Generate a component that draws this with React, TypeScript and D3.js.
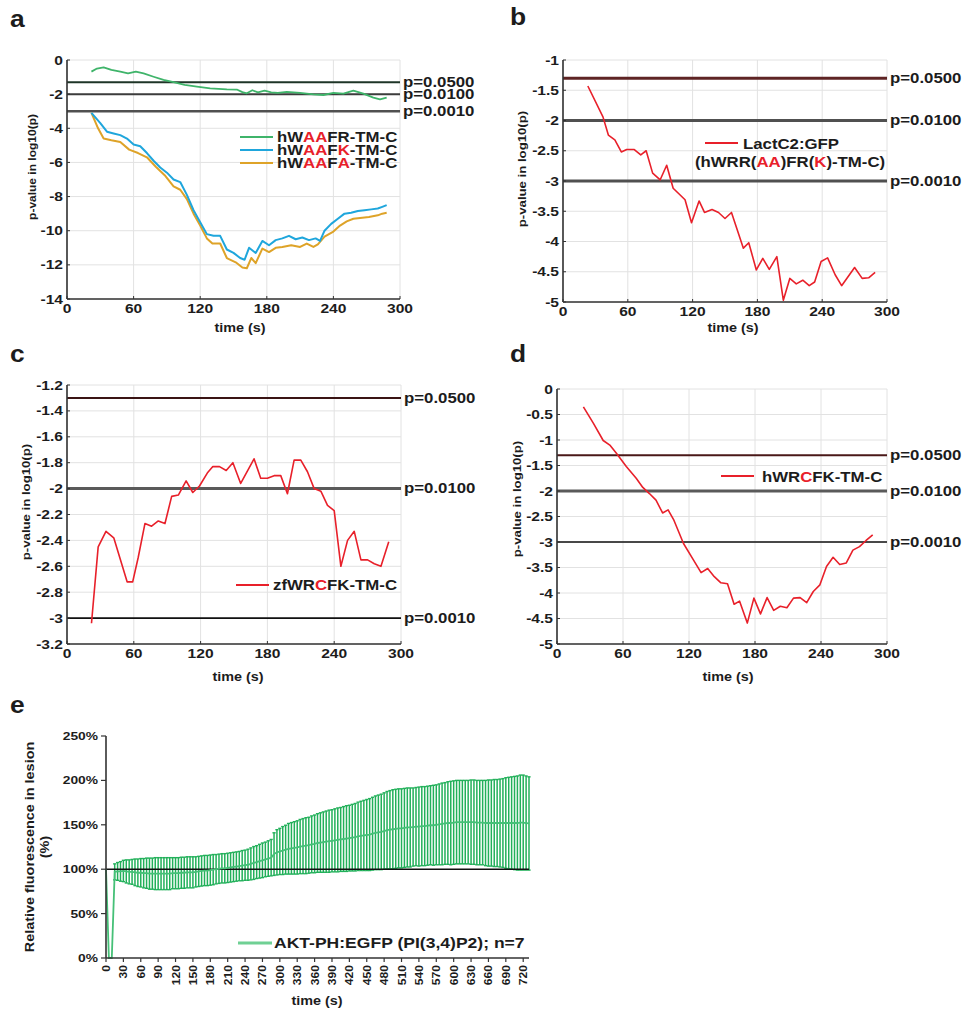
import React from 'react';
import * as d3 from 'd3';

const FONT = "'Liberation Sans', Arial, Helvetica, sans-serif";
const RED = '#e8202a';
const INK = '#1c1c1c';

// ---- panel a (three constructs) ----
const aGreenT = [22, 27, 33, 40, 48, 55, 62, 69, 78, 87, 96, 106, 117, 129, 144, 153, 158, 162, 167, 172, 178, 184, 190, 198, 204, 210, 222, 231, 240, 249, 258, 267, 276, 282, 288];
const aGreenV = [-0.68, -0.5, -0.43, -0.58, -0.68, -0.78, -0.68, -0.78, -0.98, -1.17, -1.3, -1.46, -1.56, -1.66, -1.72, -1.73, -1.88, -1.95, -1.77, -1.9, -1.8, -1.9, -1.93, -1.87, -1.9, -1.93, -2.01, -2.05, -1.93, -1.97, -1.8, -1.97, -2.2, -2.3, -2.2];
const aBlueT = [22, 30, 36, 42, 48, 54, 60, 66, 72, 78, 84, 90, 96, 102, 108, 114, 120, 126, 132, 138, 144, 150, 156, 160, 164, 170, 176, 182, 188, 194, 200, 206, 212, 218, 224, 228, 232, 238, 244, 250, 256, 262, 268, 274, 280, 284, 288];
const aBlueV = [-3.1, -3.7, -4.2, -4.3, -4.4, -4.6, -4.95, -5.05, -5.45, -5.9, -6.3, -6.6, -7.0, -7.15, -7.9, -8.8, -9.5, -10.2, -10.3, -10.3, -11.1, -11.3, -11.6, -11.7, -11.0, -11.3, -10.6, -10.85, -10.55, -10.45, -10.3, -10.5, -10.4, -10.55, -10.45, -10.6, -10.0, -9.6, -9.3, -9.0, -8.95, -8.85, -8.8, -8.75, -8.7, -8.6, -8.5];
const aOrangeT = [22, 28, 33, 40, 48, 56, 64, 72, 80, 88, 96, 102, 108, 114, 120, 126, 131, 138, 144, 152, 158, 162, 166, 170, 176, 182, 188, 194, 202, 210, 216, 222, 226, 232, 240, 246, 252, 258, 264, 272, 280, 284, 288];
const aOrangeV = [-3.1, -4.0, -4.6, -4.7, -4.8, -5.25, -5.45, -5.7, -6.25, -6.75, -7.4, -7.6, -8.15, -9.0, -9.7, -10.45, -10.75, -10.75, -11.6, -11.85, -12.15, -12.2, -11.6, -11.9, -11.05, -11.25, -11.0, -10.95, -10.85, -10.95, -10.75, -10.95, -10.8, -10.35, -10.05, -9.7, -9.45, -9.3, -9.25, -9.2, -9.1, -9.0, -8.95];

// ---- panel b ----
const bT = [23, 37, 42, 48, 54, 59, 66, 72, 77, 83, 90, 96, 102, 113, 119, 126, 131, 138, 144, 150, 156, 167, 172, 179, 185, 191, 198, 204, 210, 216, 222, 228, 233, 239, 245, 252, 258, 270, 277, 283, 289];
const bV = [-1.43, -1.94, -2.24, -2.32, -2.52, -2.48, -2.48, -2.57, -2.5, -2.87, -2.98, -2.74, -3.12, -3.31, -3.69, -3.33, -3.52, -3.47, -3.52, -3.62, -3.52, -4.11, -4.02, -4.47, -4.28, -4.46, -4.25, -4.97, -4.61, -4.7, -4.64, -4.73, -4.67, -4.33, -4.27, -4.55, -4.73, -4.43, -4.61, -4.6, -4.51];

// ---- panel c ----
const cT = [22, 28, 35, 42, 48, 54, 59, 64, 70, 76, 82, 88, 94, 100, 107, 113, 119, 126, 131, 137, 143, 149, 156, 168, 174, 180, 186, 192, 198, 204, 210, 216, 222, 228, 234, 240, 246, 252, 258, 264, 270, 276, 282, 289];
const cV = [-3.04, -2.45, -2.33, -2.38, -2.55, -2.72, -2.72, -2.53, -2.27, -2.29, -2.25, -2.27, -2.06, -2.05, -1.94, -2.03, -1.98, -1.88, -1.83, -1.83, -1.86, -1.8, -1.96, -1.77, -1.92, -1.92, -1.9, -1.9, -2.04, -1.78, -1.78, -1.87, -2.0, -2.02, -2.13, -2.17, -2.6, -2.4, -2.33, -2.55, -2.55, -2.58, -2.6, -2.41];

// ---- panel d ----
const dT = [24, 33, 42, 48, 54, 63, 72, 78, 84, 90, 96, 101, 106, 115, 124, 131, 137, 143, 149, 155, 161, 166, 173, 179, 185, 191, 197, 203, 209, 215, 221, 227, 233, 239, 245, 251, 257, 263, 269, 275, 281, 287];
const dV = [-0.35, -0.67, -1.01, -1.1, -1.26, -1.52, -1.75, -1.93, -2.05, -2.18, -2.43, -2.37, -2.56, -3.03, -3.35, -3.6, -3.52, -3.68, -3.8, -3.82, -4.22, -4.16, -4.59, -4.1, -4.41, -4.09, -4.34, -4.26, -4.29, -4.1, -4.09, -4.19, -3.97, -3.84, -3.48, -3.3, -3.44, -3.41, -3.16, -3.09, -2.97, -2.86];

const timeTicks = [0, 60, 120, 180, 240, 300];

// ---- panel e (AKT-PH:EGFP, mean and SD every 5 s) ----
const eTime = d3.range(0, 735, 5);
const eMean = [
  100, 0, 0, 97, 97.5, 97.5, 98, 97.5, 97, 97,
  96.5, 96, 96, 95.5, 95.5, 95, 95, 95, 95, 95,
  95, 95, 95, 95.5, 95.5, 95.5, 96, 96, 96.5, 96.5,
  96.5, 97, 97.5, 98, 98.5, 98.5, 99, 99.5, 100, 100.5,
  101, 101, 101.5, 102, 102.5, 103, 103.5, 104, 104.5, 105,
  106, 107, 108, 109, 110, 111, 112, 113, 117, 119,
  120, 121, 122, 123, 123.5, 124, 124.5, 125.5, 126, 126.5,
  127, 128, 128.5, 129.5, 130, 130.5, 131, 131.5, 132, 132.5,
  133, 133.5, 134, 134.5, 135, 135.5, 136, 137, 137.5, 138,
  138.5, 139, 140, 141, 141.5, 142, 143, 144, 144.5, 145,
  145.5, 146, 146, 146.5, 147, 147, 147.5, 148, 148, 148.5,
  148.5, 149, 149.5, 149.5, 150, 150.5, 151, 151.5, 152, 152,
  152.5, 153, 153, 153, 153, 153, 153, 153, 152.5, 152.5,
  152.5, 152, 152, 152, 152, 152, 152, 152, 152, 152,
  152, 152, 152, 152.5, 152.5, 152, 151.5,
];
const eSd = [
  0, 0, 0, 9, 10, 11, 12, 13, 13.5, 14,
  15, 15.5, 16, 16.5, 17, 17.5, 17.5, 18, 18, 18,
  18, 18, 18, 17.5, 17.5, 17.5, 17.5, 17.5, 17.5, 17.5,
  17.5, 17, 17, 17, 17, 17, 17, 17, 16.5, 16.5,
  16.5, 16.5, 16.5, 16.5, 16.5, 16.5, 16.5, 17, 17, 17.5,
  18, 18.5, 18.5, 19, 19.5, 19.5, 20, 20.5, 24, 25.5,
  26, 27, 27.5, 28.5, 29, 29.5, 30, 30.5, 31, 31.5,
  31.5, 32, 32.5, 33, 33.5, 34, 34.5, 35, 35, 35.5,
  36, 36, 36.5, 37, 37, 37.5, 38, 38.5, 39, 39.5,
  40, 40.5, 41, 41.5, 42, 42.5, 43, 43.5, 44, 44.5,
  44.5, 44.5, 44.5, 44.5, 44.5, 44.5, 44, 44, 44.5, 44.5,
  44.5, 44.5, 44.5, 45, 45, 45.5, 46, 46, 46.5, 47,
  47, 47, 47, 47, 47, 47, 47.5, 47.5, 47.5, 47.5,
  47.5, 48, 48.5, 48.5, 49, 49, 49.5, 50, 51, 51.5,
  52, 52.5, 53, 53.5, 53.5, 53, 52.5,
];
const ePctTicks = [0, 50, 100, 150, 200, 250];
const eTimeTicks = d3.range(0, 721, 30);

// text with the slightly wide look of the figure
function T({ x, y, size = 14, anchor = 'start', rot = 0, sx = 1.2, fill = INK, children }: any) {
  return (
    <text
      transform={`translate(${x},${y})${rot ? ` rotate(${rot})` : ''} scale(${sx},1)`}
      fontSize={size}
      fontWeight={700}
      fontFamily={FONT}
      textAnchor={anchor}
      fill={fill}
    >
      {children}
    </text>
  );
}

const parts = (list: [string, boolean][]) =>
  list.map(([s, red], i) => (
    <tspan key={i} fill={red ? RED : INK}>{s}</tspan>
  ));

function Panel({ box, yDomain, yTicks, series, pLines, legend, letter, yLab, xLab }: any) {
  const x = d3.scaleLinear().domain([0, 300]).range([box.l, box.r]);
  const y = d3.scaleLinear().domain(yDomain).range([box.b, box.t]);
  const line = d3.line<[number, number]>().x(d => x(d[0])).y(d => y(d[1]));

  return (
    <g>
      {/* grid */}
      {timeTicks.map(t => (
        <line key={'gx' + t} x1={x(t)} x2={x(t)} y1={box.t} y2={box.b} stroke="#e2e2e2" strokeWidth={1} />
      ))}
      {yTicks.map((v: number) => (
        <line key={'gy' + v} x1={box.l} x2={box.r} y1={y(v)} y2={y(v)} stroke="#e2e2e2" strokeWidth={1} />
      ))}
      {/* significance thresholds */}
      {pLines.map((p: any) => (
        <line key={p.label} x1={box.l} x2={box.r} y1={y(p.v)} y2={y(p.v)} stroke={p.color} strokeWidth={p.w} />
      ))}
      {series.map((s: any, i: number) => (
        <path
          key={i}
          d={line(s.t.map((t: number, j: number) => [t, s.v[j]]) as [number, number][]) || ''}
          fill="none"
          stroke={s.color}
          strokeWidth={s.w || 1.6}
          strokeLinejoin="round"
        />
      ))}
      {/* axes */}
      <line x1={box.l} x2={box.l} y1={box.t} y2={box.b} stroke="#333" strokeWidth={1.6} />
      <line x1={box.l} x2={box.r} y1={box.b} y2={box.b} stroke="#333" strokeWidth={1.6} />
      {timeTicks.map(t => (
        <line key={'tx' + t} x1={x(t)} x2={x(t)} y1={box.b} y2={box.b - 3} stroke="#333" strokeWidth={1} />
      ))}
      {yTicks.map((v: number) => (
        <line key={'ty' + v} x1={box.l} x2={box.l + 3} y1={y(v)} y2={y(v)} stroke="#333" strokeWidth={1} />
      ))}
      {yTicks.map((v: number) => (
        <T key={'ly' + v} x={box.l - 4} y={y(v) + 4.5} size={13} anchor="end">{String(v)}</T>
      ))}
      {timeTicks.map(t => (
        <T key={'lx' + t} x={x(t)} y={box.b + 13.5} size={13} anchor="middle">{String(t)}</T>
      ))}
      {pLines.map((p: any) => (
        <T key={'pl' + p.label} x={box.r + 3} y={y(p.v) + 4.5} size={14}>{p.label}</T>
      ))}
      {/* legend */}
      {legend.lines.map((l: any, i: number) => (
        <line key={'lg' + i} x1={l.x1} x2={l.x2} y1={l.y} y2={l.y} stroke={l.color} strokeWidth={2.2} />
      ))}
      {legend.texts.map((l: any, i: number) => (
        <T key={'lt' + i} x={l.x} y={l.y} size={14} anchor={l.anchor || 'start'}>{parts(l.parts)}</T>
      ))}
      <T x={letter.x} y={letter.y} size={24} sx={1.1}>{letter.text}</T>
      <T x={yLab.x} y={yLab.y} size={yLab.size || 11} rot={-90} anchor="middle">p-value in log10(p)</T>
      <T x={xLab.x} y={xLab.y} size={12} anchor="middle">time (s)</T>
    </g>
  );
}

function PanelE() {
  const box = { l: 106, r: 529, t: 736, b: 958 };
  const x = d3.scaleLinear().domain([0, 730]).range([box.l, box.r]);
  const y = d3.scaleLinear().domain([0, 250]).range([box.b, box.t]);
  const pts = eTime.map((t, i) => [t, eMean[i]] as [number, number]);
  const meanLine = d3.line<[number, number]>().x(d => x(d[0])).y(d => y(d[1]));
  const green = '#22b05a';

  return (
    <g>
      {/* error bars */}
      {eTime.map((t, i) =>
        eSd[i] > 0 ? (
          <g key={'eb' + t}>
            <line x1={x(t)} x2={x(t)} y1={y(eMean[i] - eSd[i])} y2={y(eMean[i] + eSd[i])} stroke={green} strokeWidth={1.5} />
            <line x1={x(t) - 1.6} x2={x(t) + 1.6} y1={y(eMean[i] + eSd[i])} y2={y(eMean[i] + eSd[i])} stroke={green} strokeWidth={1.4} />
            <line x1={x(t) - 1.6} x2={x(t) + 1.6} y1={y(eMean[i] - eSd[i])} y2={y(eMean[i] - eSd[i])} stroke={green} strokeWidth={1.4} />
          </g>
        ) : null
      )}
      {/* 100% reference */}
      <line x1={box.l} x2={box.r} y1={y(100)} y2={y(100)} stroke="#111" strokeWidth={1.6} />
      <path d={meanLine(pts) || ''} fill="none" stroke="#45c077" strokeWidth={1.8} />
      {/* axes */}
      <line x1={box.l} x2={box.l} y1={box.t} y2={box.b} stroke="#333" strokeWidth={1.6} />
      <line x1={box.l} x2={box.r} y1={box.b} y2={box.b} stroke="#333" strokeWidth={1.6} />
      {ePctTicks.map(v => (
        <g key={'ey' + v}>
          <line x1={box.l - 5} x2={box.l} y1={y(v)} y2={y(v)} stroke="#333" strokeWidth={1.2} />
          <T x={box.l - 8} y={y(v) + 4} size={11.5} anchor="end">{v + '%'}</T>
        </g>
      ))}
      {eTimeTicks.map(t => (
        <g key={'ex' + t}>
          <line x1={x(t)} x2={x(t)} y1={box.b} y2={box.b + 4} stroke="#333" strokeWidth={1.2} />
          <T x={x(t) + 4} y={box.b + 7} size={10.5} rot={-90} anchor="end" sx={1.15}>{String(t)}</T>
        </g>
      ))}
      <T x={34} y={847} size={12} rot={-90} anchor="middle">Relative fluorescence in lesion</T>
      <T x={49} y={847} size={12} rot={-90} anchor="middle">(%)</T>
      <T x={317} y={1005} size={12} anchor="middle">time (s)</T>
      <line x1={238} x2={272} y1={943} y2={943} stroke="#6fd094" strokeWidth={3} />
      <T x={274} y={948} size={15} sx={1.17}>AKT-PH:EGFP (PI(3,4)P2); n=7</T>
      <T x={10} y={713} size={24} sx={1.1}>e</T>
    </g>
  );
}

export default function App() {
  return (
    <svg width={963} height={1009} style={{ position: 'absolute', left: 0, top: 0, background: '#fff' }}>
      <rect width={963} height={1009} fill="#fff" />
      <Panel
        box={{ l: 67, r: 400, t: 60, b: 299 }}
        yDomain={[-14, 0]}
        yTicks={[0, -2, -4, -6, -8, -10, -12, -14]}
        series={[
          { t: aGreenT, v: aGreenV, color: '#3fb46a', w: 1.8 },
          { t: aOrangeT, v: aOrangeV, color: '#dea328', w: 2 },
          { t: aBlueT, v: aBlueV, color: '#1fa6dc', w: 2 },
        ]}
        pLines={[
          { v: -1.301, label: 'p=0.0500', color: '#1e3527', w: 2 },
          { v: -2, label: 'p=0.0100', color: '#3c3c3c', w: 2 },
          { v: -3, label: 'p=0.0010', color: '#505050', w: 2.5 },
        ]}
        legend={{
          lines: [
            { x1: 240, x2: 273, y: 137, color: '#3fb46a' },
            { x1: 240, x2: 273, y: 150, color: '#1fa6dc' },
            { x1: 240, x2: 273, y: 163, color: '#dea328' },
          ],
          texts: [
            { x: 277, y: 142, parts: [['hW', false], ['AA', true], ['FR-TM-C', false]] },
            { x: 277, y: 155, parts: [['hW', false], ['AA', true], ['F', false], ['K', true], ['-TM-C', false]] },
            { x: 277, y: 168, parts: [['hW', false], ['AA', true], ['F', false], ['A', true], ['-TM-C', false]] },
          ],
        }}
        letter={{ x: 10, y: 27, text: 'a' }}
        yLab={{ x: 36, y: 167, size: 10 }}
        xLab={{ x: 240, y: 332 }}
      />
      <Panel
        box={{ l: 563, r: 887, t: 60, b: 302 }}
        yDomain={[-5, -1]}
        yTicks={[-1, -1.5, -2, -2.5, -3, -3.5, -4, -4.5, -5]}
        series={[{ t: bT, v: bV, color: RED, w: 1.6 }]}
        pLines={[
          { v: -1.301, label: 'p=0.0500', color: '#5e2424', w: 3 },
          { v: -2, label: 'p=0.0100', color: '#505050', w: 3 },
          { v: -3, label: 'p=0.0010', color: '#505050', w: 3 },
        ]}
        legend={{
          lines: [{ x1: 705, x2: 738, y: 143, color: RED }],
          texts: [
            { x: 791, y: 149, anchor: 'middle', parts: [['LactC2:GFP', false]] },
            { x: 790, y: 167, anchor: 'middle', parts: [['(hWRR(', false], ['AA', true], [')FR(', false], ['K', true], [')-TM-C)', false]] },
          ],
        }}
        letter={{ x: 510, y: 25, text: 'b' }}
        yLab={{ x: 526, y: 169 }}
        xLab={{ x: 733, y: 332 }}
      />
      <Panel
        box={{ l: 67, r: 401, t: 385, b: 644 }}
        yDomain={[-3.2, -1.2]}
        yTicks={[-1.2, -1.4, -1.6, -1.8, -2, -2.2, -2.4, -2.6, -2.8, -3, -3.2]}
        series={[{ t: cT, v: cV, color: RED, w: 1.6 }]}
        pLines={[
          { v: -1.301, label: 'p=0.0500', color: '#3a1414', w: 2 },
          { v: -2, label: 'p=0.0100', color: '#5a5a5a', w: 3 },
          { v: -3, label: 'p=0.0010', color: '#111', w: 1.6 },
        ]}
        legend={{
          lines: [{ x1: 236, x2: 269, y: 585, color: RED }],
          texts: [{ x: 273, y: 590, parts: [['zfWR', false], ['C', true], ['FK-TM-C', false]] }],
        }}
        letter={{ x: 10, y: 362, text: 'c' }}
        yLab={{ x: 30, y: 502 }}
        xLab={{ x: 238, y: 681 }}
      />
      <Panel
        box={{ l: 557, r: 887, t: 389, b: 644 }}
        yDomain={[-5, 0]}
        yTicks={[0, -0.5, -1, -1.5, -2, -2.5, -3, -3.5, -4, -4.5, -5]}
        series={[{ t: dT, v: dV, color: RED, w: 1.6 }]}
        pLines={[
          { v: -1.301, label: 'p=0.0500', color: '#4a1818', w: 2 },
          { v: -2, label: 'p=0.0100', color: '#5a5a5a', w: 3 },
          { v: -3, label: 'p=0.0010', color: '#111', w: 1.6 },
        ]}
        legend={{
          lines: [{ x1: 721, x2: 754, y: 476, color: RED }],
          texts: [{ x: 762, y: 482, parts: [['hWR', false], ['C', true], ['FK-TM-C', false]] }],
        }}
        letter={{ x: 510, y: 362, text: 'd' }}
        yLab={{ x: 521, y: 499 }}
        xLab={{ x: 728, y: 681 }}
      />
      <PanelE />
    </svg>
  );
}
